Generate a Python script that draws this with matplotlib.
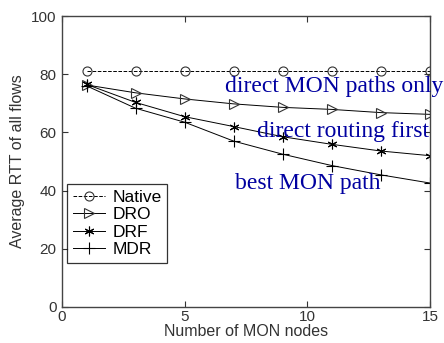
import numpy as np
import matplotlib.pyplot as plt

# average RTT vs number of MON nodes
nodes = [1, 3, 5, 7, 9, 11, 13, 15]
native = [81, 81, 81, 81, 81, 81, 81, 81]
dro = [76.3, 73.6, 71.5, 69.8, 68.6, 67.9, 66.8, 66.2]
drf = [76.5, 70.3, 65.4, 62.0, 58.5, 55.9, 53.6, 52.0]
mdr = [76.0, 68.3, 63.5, 57.0, 52.5, 48.6, 45.4, 42.6]

plt.rcParams['font.family'] = ['Liberation Sans', 'DejaVu Sans']

fig = plt.figure(figsize=(4.44, 3.43), dpi=100)
ax = fig.add_axes([62/444, 1-307/343, 368/444, 291/343])

ax.plot(nodes, native, '--', color='k', lw=0.7, marker='o', mfc='none', mec='#333333', ms=6.5, mew=0.8, label='Native')
ax.plot(nodes, dro, '-', color='k', lw=0.7, marker='>', mfc='none', mec='#333333', ms=7.5, mew=0.8, label='DRO')
ax.plot(nodes, drf, '-', color='k', lw=0.7, marker=(6, 2, 0), mec='k', ms=7, mew=0.8, label='DRF')
ax.plot(nodes, mdr, '-', color='k', lw=0.7, marker='+', mec='k', ms=9, mew=0.8, label='MDR')

ax.set_xlim(0, 15)
ax.set_ylim(0, 100)
ax.set_xticks([0, 5, 10, 15])
ax.set_yticks([0, 20, 40, 60, 80, 100])
ax.tick_params(direction='in', top=True, right=True, length=4, width=0.8, labelsize=11, colors='#333333')
ax.tick_params(axis='y', pad=4)
ax.tick_params(axis='x', pad=2)
for s in ax.spines.values():
    s.set_linewidth(1.0)
    s.set_color('#444444')

ax.set_xlabel('Number of MON nodes', fontsize=11.5, color='#333333', labelpad=0)
ax.set_ylabel('Average RTT of all flows', fontsize=11.5, color='#333333', labelpad=4)

# legend box sits in the lower left corner
leg = ax.legend(loc='upper left', bbox_to_anchor=(5/368, 1-(184-16)/291), fontsize=12.5, frameon=True,
                fancybox=False, handlelength=1.85, handletextpad=0.4, borderpad=0.35, labelspacing=0.12,
                borderaxespad=0)
leg.get_frame().set_edgecolor('k')
leg.get_frame().set_linewidth(0.9)

# blue annotations for each routing scheme
serif = ['Liberation Serif', 'DejaVu Serif']
ax.text(6.64, 73.9, 'direct MON paths only', family=serif, fontsize=17, color='#0000a0', ha='left', va='baseline', clip_on=False)
ax.text(7.95, 58.4, 'direct routing first', family=serif, fontsize=17, color='#0000a0', ha='left', va='baseline')
ax.text(7.05, 40.5, 'best MON path', family=serif, fontsize=17, color='#0000a0', ha='left', va='baseline')

fig.savefig('out.png', dpi=100)
